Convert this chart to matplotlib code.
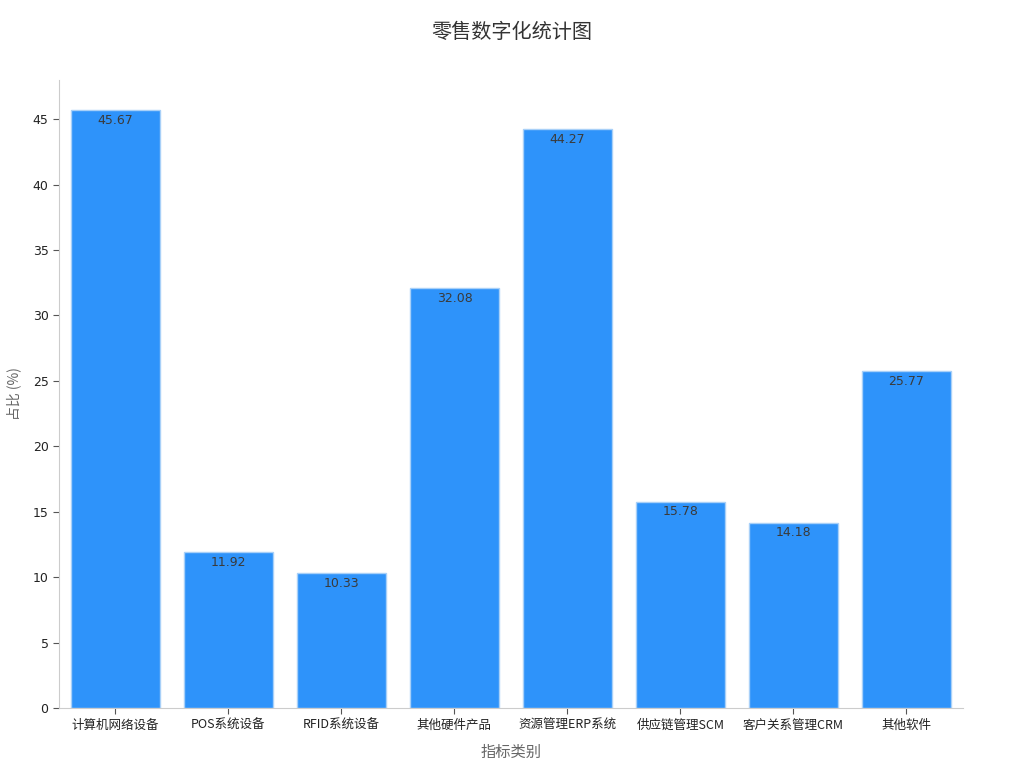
import matplotlib
matplotlib.use("Agg")
import matplotlib.pyplot as plt

plt.rcParams['font.family'] = ['Noto Sans CJK SC', 'DejaVu Sans']

categories = ["计算机网络设备", "POS系统设备", "RFID系统设备", "其他硬件产品",
              "资源管理ERP系统", "供应链管理SCM", "客户关系管理CRM", "其他软件"]
values = [45.67, 11.92, 10.33, 32.08, 44.27, 15.78, 14.18, 25.77]
yticks = [0, 5, 10, 15, 20, 25, 30, 35, 40, 45]

fig = plt.figure(figsize=(10.24, 7.68), dpi=100)
ax = fig.add_axes([0.0576, 0.078, 0.8828, 0.818])

x = list(range(len(categories)))
bars = ax.bar(x, values, width=0.79, color="#2E93FA", edgecolor="#A8D0F8", linewidth=1)
for xi, v in zip(x, values):
    ax.text(xi, v - 0.3, f"{v:.2f}", ha="center", va="top", fontsize=9,
            color="#3a3a3a", family=['DejaVu Sans'])

ax.set_xlim(-0.5, 7.5)
ax.set_ylim(0, 48)
ax.set_xticks(x)
ax.set_xticklabels(categories, fontsize=9, color="#222222")
ax.set_yticks(yticks)
ax.tick_params(axis='y', labelsize=9, colors="#222222")
for lab in ax.get_yticklabels():
    lab.set_family(['DejaVu Sans'])
ax.tick_params(color="#555555", length=4)
for s in ["top", "right"]:
    ax.spines[s].set_visible(False)
for s in ["left", "bottom"]:
    ax.spines[s].set_color("#cccccc")
ax.set_xlabel("指标类别", fontsize=11, color="#666666", labelpad=9)
ax.set_ylabel("占比 (%)", fontsize=10, color="#666666", labelpad=8)
fig.suptitle("零售数字化统计图", fontsize=14.5, color="#333333", y=0.972)

fig.savefig("out.png", dpi=100)
